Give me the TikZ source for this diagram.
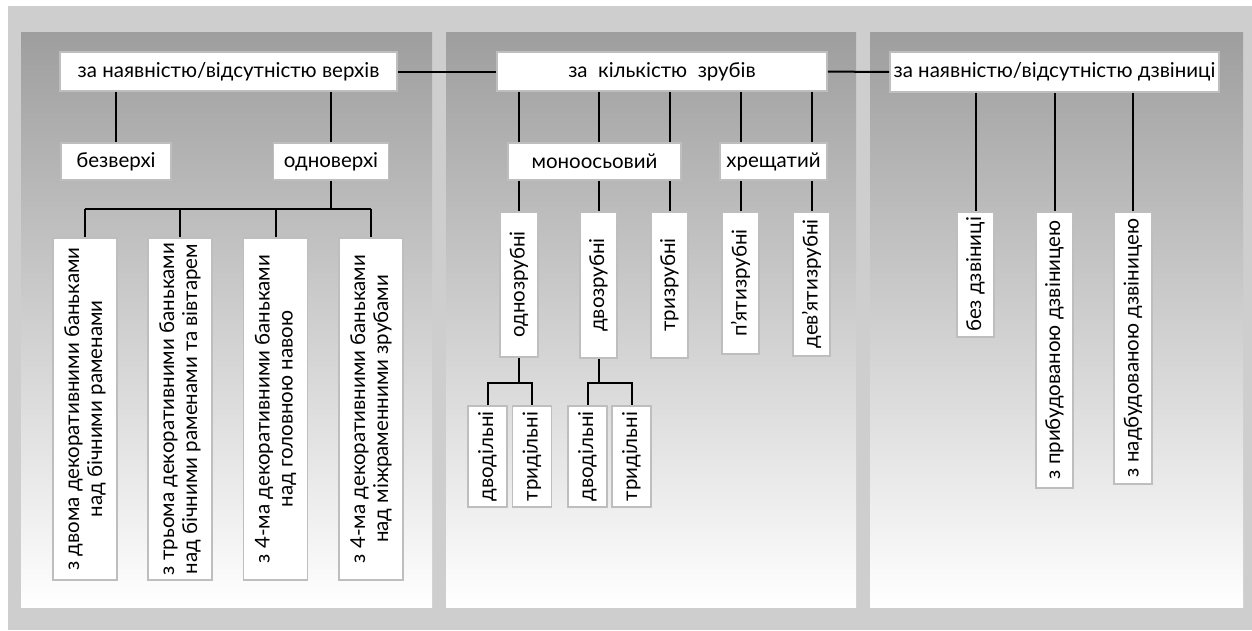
\documentclass[tikz,border=0pt]{standalone}
\usepackage{fontspec}
\setmainfont{Lato}
\usepackage{tikz}
\usepackage{xcolor}
\definecolor{framegray}{RGB}{206,206,206}
\definecolor{panelgray}{RGB}{158,158,158}
\definecolor{edgegray}{RGB}{190,190,190}

\begin{document}
\begin{tikzpicture}[x=1pt,y=-1pt,
  box/.style={draw=edgegray,line width=1.8pt,fill=white,inner sep=0pt,
    font=\fontsize{20.5}{23}\selectfont},
  vbox/.style={box,rotate=90,align=center},
  link/.style={line width=2pt,black}]
\useasboundingbox (0,0) rectangle (1252,630);
\fill[white] (0,0) rectangle (1252,630);

% Background and three panels
\fill[framegray] (8,6) rectangle (1252,630);
\shade[top color=panelgray,bottom color=white] (21,32) rectangle (432,607);
\shade[top color=panelgray,bottom color=white] (446,32) rectangle (856,607);
\shade[top color=panelgray,bottom color=white] (870,32) rectangle (1243,607);

% Panel 1: tops
\node[box,minimum width=337pt,minimum height=39pt] (verh) at (228.5,71.5) {за наявністю/відсутністю верхів};
\node[box,minimum width=110pt,minimum height=37pt] (bezv) at (116,161.5) {безверхі};
\node[box,minimum width=115pt,minimum height=37pt] (odnov) at (331,161.5) {одноверхі};

\node[vbox,minimum width=342pt,minimum height=64pt] (dv) at (85,409) {з двома декоративними баньками\\над бічними раменами};
\node[vbox,minimum width=342pt,minimum height=64pt] (tr) at (180,409) {з трьома декоративними баньками\\над бічними раменами та вівтарем};
\node[vbox,minimum width=342pt,minimum height=64pt] (ch) at (275.5,409) {з 4-ма декоративними баньками\\над головною навою};
\node[vbox,minimum width=342pt,minimum height=64pt] (chm) at (371,409) {з 4-ма декоративними баньками\\над міжраменними зрубами};

% Panel 2: number of log frames
\node[box,minimum width=330pt,minimum height=39pt] (kilk) at (662,71.5) {за~ кількістю~ зрубів};
\node[box,minimum width=173pt,minimum height=37pt] (mono) at (594.5,161.5) {моноосьовий};
\node[box,minimum width=107pt,minimum height=37pt] (hresh) at (773.5,161.5) {хрещатий};

\node[vbox,minimum width=145pt,minimum height=38pt] (z1) at (519,284.5) {однозрубні};
\node[vbox,minimum width=146pt,minimum height=37pt] (z2) at (598.5,285) {двозрубні};
\node[vbox,minimum width=146pt,minimum height=37pt] (z3) at (669.5,285) {тризрубні};
\node[vbox,minimum width=142pt,minimum height=37pt] (z5) at (740.5,283) {п'ятизрубні};
\node[vbox,minimum width=144pt,minimum height=37pt] (z9) at (811.5,284) {дев'ятизрубні};

\node[vbox,minimum width=101pt,minimum height=39pt] (dv1) at (487.5,456.5) {дводільні};
\node[vbox,minimum width=101pt,minimum height=39pt] (tr1) at (532,456.5) {тридільні};
\node[vbox,minimum width=101pt,minimum height=39pt] (dv2) at (587.5,456.5) {дводільні};
\node[vbox,minimum width=101pt,minimum height=39pt] (tr2) at (631.5,456.5) {тридільні};

% Panel 3: belfry
\node[box,minimum width=329pt,minimum height=40pt] (dzv) at (1054.5,72) {за наявністю/відсутністю дзвіниці};
\node[vbox,minimum width=125pt,minimum height=37pt] (bez) at (975.5,274.5) {без дзвіниці};
\node[vbox,minimum width=276pt,minimum height=37pt] (prib) at (1054.5,350) {з прибудованою дзвіницею};
\node[vbox,minimum width=272pt,minimum height=38pt] (nadb) at (1133,348) {з надбудованою дзвіницею};

% Connection lines
\draw[link] (verh) -- (kilk);
\draw[link] (kilk) -- (dzv);

\draw[link] (verh.south -| bezv.north) -- (bezv.north);
\draw[link] (verh.south -| odnov.north) -- (odnov.north);
\coordinate (bus1) at (331,209);
\draw[link] (odnov.south) -- (bus1);
\draw[link] (dv.east |- bus1) -- (chm.east |- bus1);
\foreach \n in {dv,tr,ch,chm}
  \draw[link] (\n.east |- bus1) -- (\n.east);

\foreach \n in {z1,z2,z3} {
  \draw[link] (kilk.south -| \n.east) -- (mono.north -| \n.east);
  \draw[link] (mono.south -| \n.east) -- (\n.east);
}
\foreach \n in {z5,z9} {
  \draw[link] (kilk.south -| \n.east) -- (hresh.north -| \n.east);
  \draw[link] (hresh.south -| \n.east) -- (\n.east);
}

\coordinate (bus2) at (519,383);
\draw[link] (z1.west) -- (bus2);
\draw[link] (dv1.east) |- (bus2) -| (tr1.east);
\coordinate (bus3) at (598.5,383);
\draw[link] (z2.west) -- (bus3);
\draw[link] (dv2.east) |- (bus3) -| (tr2.east);

\foreach \n in {bez,prib,nadb}
  \draw[link] (dzv.south -| \n.east) -- (\n.east);
\end{tikzpicture}
\end{document}
